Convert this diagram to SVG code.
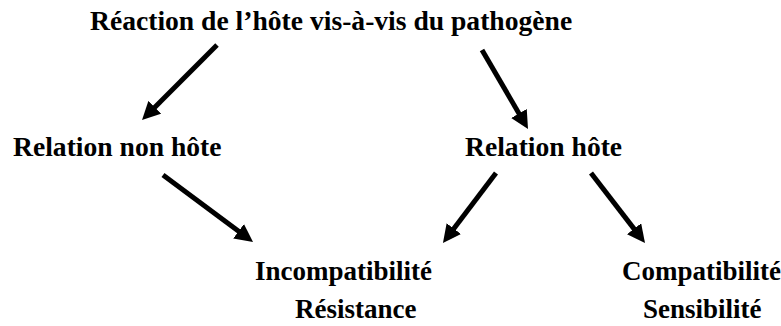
<svg xmlns="http://www.w3.org/2000/svg" width="781" height="326" viewBox="0 0 781 326">
<style>
text{font-family:"Liberation Serif","Times New Roman",serif;font-weight:bold;font-size:27px;fill:#000}
.t{font-size:27.6px}
.c{stroke:#000;stroke-width:5;fill:none;marker-end:url(#ah)}
</style>
<defs>
<marker id="ah" markerUnits="userSpaceOnUse" markerWidth="20" markerHeight="18" refX="8" refY="9" orient="auto">
<path d="M0,0 L18,9 L0,18 z" fill="#000"/>
</marker>
</defs>
<rect width="781" height="326" fill="#fff"/>
<g id="connectors">
<line class="c" x1="217" y1="45" x2="149.1" y2="112.9"/>
<line class="c" x1="482" y1="50" x2="523" y2="120.4"/>
<line class="c" x1="163" y1="175" x2="245" y2="236"/>
<line class="c" x1="496" y1="173" x2="449" y2="235"/>
<line class="c" x1="591" y1="173" x2="638.9" y2="235.1"/>
</g>
<g id="title"><text class="t" x="90" y="30">Réaction de l’hôte vis-à-vis du pathogène</text></g>
<g id="non-hote"><text class="t" x="13" y="156">Relation non hôte</text></g>
<g id="hote"><text class="t" x="465" y="156">Relation hôte</text></g>
<g id="incompat"><text x="255" y="280">Incompatibilité</text><text x="295" y="318">Résistance</text></g>
<g id="compat"><text x="622" y="280">Compatibilité</text><text x="643" y="318">Sensibilité</text></g>
</svg>
